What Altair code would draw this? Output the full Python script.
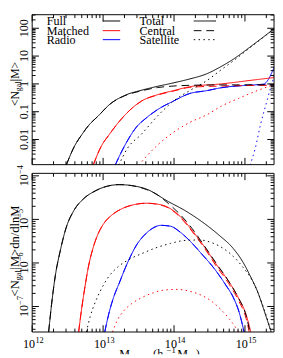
import altair as alt
import pandas as pd

FONT = "Liberation Serif"

# ---------------- data: log10(M / h^-1 Msun) and values ----------------
# Top panel: <N_gal|M>
top_full_total_logM = [12.48, 12.6, 12.7, 12.8, 12.93, 13.1, 13.3, 13.55, 13.77, 14.0, 14.22, 14.46, 14.67, 14.81, 15.11, 15.42]
top_full_total_N = [1.2e-3, 0.006, 0.015, 0.033, 0.07, 0.19, 0.38, 0.6, 0.82, 1.1, 1.5, 2.3, 4.3, 7.0, 25, 100]
top_full_cen_logM = [12.48, 12.6, 12.7, 12.8, 12.93, 13.1, 13.3, 13.55, 13.77, 14.0, 14.22, 14.46, 14.8, 15.1, 15.42]
top_full_cen_N = [1.2e-3, 0.006, 0.015, 0.033, 0.07, 0.19, 0.37, 0.57, 0.74, 0.84, 0.89, 0.91, 0.92, 0.93, 0.93]
top_full_sat_logM = [13.22, 13.34, 13.54, 13.77, 13.99, 14.22, 14.46, 14.67, 14.81, 15.11, 15.42]
top_full_sat_N = [1.2e-3, 4.7e-3, 0.0155, 0.071, 0.24, 0.57, 1.3, 3.3, 6.0, 24, 99]

top_match_total_logM = [12.86, 12.97, 13.09, 13.31, 13.54, 13.77, 13.99, 14.22, 14.67, 15.14, 15.42]
top_match_total_N = [1.2e-3, 5.5e-3, 0.0155, 0.077, 0.24, 0.41, 0.57, 0.79, 1.0, 1.4, 1.7]
top_match_cen_logM = [12.86, 12.97, 13.09, 13.31, 13.54, 13.77, 13.99, 14.22, 14.67, 15.14, 15.42]
top_match_cen_N = [1.2e-3, 5.5e-3, 0.0155, 0.077, 0.24, 0.40, 0.55, 0.75, 0.84, 0.88, 0.90]
top_match_sat_logM = [13.50, 13.77, 13.99, 14.22, 14.46, 14.67, 14.91, 15.14, 15.36, 15.42]
top_match_sat_N = [1.2e-3, 6.4e-3, 0.018, 0.041, 0.077, 0.16, 0.30, 0.53, 0.85, 0.95]

top_radio_total_logM = [13.17, 13.31, 13.47, 13.61, 13.77, 13.99, 14.22, 14.46, 14.67, 14.91, 15.14, 15.27, 15.34, 15.38, 15.42]
top_radio_total_N = [1.2e-3, 6.4e-3, 0.028, 0.06, 0.12, 0.24, 0.45, 0.57, 0.73, 0.85, 0.92, 1.0, 1.6, 2.6, 4.3]
top_radio_cen_logM = [13.17, 13.31, 13.47, 13.61, 13.77, 13.99, 14.22, 14.46, 14.67, 14.91, 15.14, 15.27, 15.42]
top_radio_cen_N = [1.2e-3, 6.4e-3, 0.028, 0.06, 0.12, 0.24, 0.45, 0.57, 0.73, 0.85, 0.91, 0.93, 0.95]
top_radio_sat_logM = [15.07, 15.14, 15.22, 15.32, 15.36, 15.38, 15.42]
top_radio_sat_N = [1.2e-3, 4.3e-3, 0.035, 0.3, 0.7, 1.0, 2.6]

# Bottom panel: <N_gal|M> dn/dlnM
bot_full_total_logM = [12.232, 12.273, 12.327, 12.396, 12.477, 12.587, 12.723, 12.887, 13.064, 13.228, 13.405, 13.61, 13.924, 14.156, 14.387, 14.633, 14.838, 14.974, 15.07, 15.179, 15.288, 15.37]
bot_full_total_v = [2.6e-8, 1.11e-7, 5.2e-7, 1.91e-6, 6.3e-6, 1.59e-5, 2.96e-5, 4.49e-5, 5.81e-5, 6.28e-5, 5.96e-5, 4.97e-5, 2.54e-5, 1.59e-5, 9.0e-6, 4.37e-6, 2.12e-6, 1.03e-6, 5.2e-7, 2.17e-7, 6.6e-8, 2.6e-8]
bot_full_cen_logM = [12.232, 12.273, 12.327, 12.396, 12.477, 12.587, 12.723, 12.887, 13.064, 13.228, 13.405, 13.61, 13.746, 13.924, 14.087, 14.251, 14.428, 14.606, 14.769, 14.906, 15.015, 15.07]
bot_full_cen_v = [2.6e-8, 1.11e-7, 5.2e-7, 1.91e-6, 6.3e-6, 1.59e-5, 2.96e-5, 4.49e-5, 5.81e-5, 6.28e-5, 5.96e-5, 4.85e-5, 3.84e-5, 2.29e-5, 1.29e-5, 6.3e-6, 2.47e-6, 9.25e-7, 3.84e-7, 1.59e-7, 6.3e-8, 2.6e-8]
bot_full_sat_logM = [12.764, 12.819, 12.887, 12.969, 13.064, 13.201, 13.364, 13.542, 13.746, 13.951, 14.156, 14.36, 14.538, 14.701, 14.838, 14.974, 15.083, 15.179, 15.261, 15.329, 15.37]
bot_full_sat_v = [2.6e-8, 5.96e-8, 1.23e-7, 2.41e-7, 4.49e-7, 7.9e-7, 1.2e-6, 1.63e-6, 2.23e-6, 2.81e-6, 3.29e-6, 3.37e-6, 2.89e-6, 2.12e-6, 1.4e-6, 7.9e-7, 4.49e-7, 2.17e-7, 9.5e-8, 4.37e-8, 2.6e-8]

bot_match_total_logM = [12.655, 12.696, 12.737, 12.791, 12.859, 12.928, 13.023, 13.132, 13.269, 13.432, 13.61, 13.774, 13.924, 14.087, 14.251, 14.428, 14.606, 14.769, 14.906, 15.015, 15.083]
bot_match_total_v = [2.6e-8, 8.6e-8, 2.4e-7, 7.9e-7, 2.23e-6, 4.6e-6, 8.6e-6, 1.29e-5, 1.77e-5, 2.17e-5, 2.35e-5, 2.23e-5, 1.86e-5, 1.17e-5, 5.7e-6, 2.35e-6, 8.8e-7, 3.8e-7, 1.6e-7, 6.6e-8, 2.6e-8]
bot_match_cen_logM = [12.655, 12.696, 12.737, 12.791, 12.859, 12.928, 13.023, 13.132, 13.269, 13.432, 13.61, 13.774, 13.924, 14.087, 14.251, 14.428, 14.606, 14.769, 14.906, 15.015, 15.06]
bot_match_cen_v = [2.6e-8, 8.6e-8, 2.4e-7, 7.9e-7, 2.23e-6, 4.6e-6, 8.6e-6, 1.29e-5, 1.77e-5, 2.17e-5, 2.35e-5, 2.2e-5, 1.82e-5, 1.12e-5, 5.4e-6, 2.2e-6, 8.0e-7, 3.4e-7, 1.4e-7, 5.4e-8, 2.6e-8]
bot_match_sat_logM = [13.132, 13.201, 13.296, 13.405, 13.542, 13.705, 13.883, 14.046, 14.224, 14.387, 14.538, 14.674, 14.783, 14.865, 14.906]
bot_match_sat_v = [2.6e-8, 4.84e-8, 8.1e-8, 1.17e-7, 1.59e-7, 2.06e-7, 2.41e-7, 2.47e-7, 2.23e-7, 1.81e-7, 1.29e-7, 8.1e-8, 5.1e-8, 3.37e-8, 2.6e-8]

bot_radio_total_logM = [13.023, 13.078, 13.146, 13.228, 13.31, 13.392, 13.473, 13.569, 13.678, 13.815, 13.951, 14.087, 14.224, 14.387, 14.565, 14.729, 14.838, 14.919, 14.988]
bot_radio_total_v = [2.6e-8, 6.6e-8, 1.59e-7, 3.46e-7, 7.5e-7, 1.48e-6, 2.61e-6, 4.15e-6, 5.96e-6, 7.3e-6, 6.96e-6, 5.1e-6, 3.2e-6, 1.63e-6, 7.5e-7, 3.12e-7, 1.59e-7, 7.3e-8, 2.6e-8]
bot_radio_cen_logM = bot_radio_total_logM
bot_radio_cen_v = bot_radio_total_v

# legend and tick labels
samples = ["Full", "Matched", "Radio"]
sample_colors = ["#000000", "#ff0000", "#0000ff"]
components = ["Total", "Central", "Satellite"]
component_dashes = [[1, 0], [8, 5], [1.5, 3.5]]

X_DOMAIN = [1e12, 2.57e15]
TOP_DOMAIN = [1.25e-3, 307]
BOT_DOMAIN = [2.6e-8, 1.14e-4]

x_major = [1e12, 1e13, 1e14, 1e15]
x_major_exp = ["12", "13", "14", "15"]
x_minor = [m * 10.0 ** d for d in range(12, 16) for m in range(2, 10) if m * 10.0 ** d <= X_DOMAIN[1]]
top_major = [1e-2, 1e-1, 1, 10, 100]
top_major_labels = ["0.01", "0.1", "1", "10", "100"]
top_minor = [m * 10.0 ** d for d in range(-3, 3) for m in range(2, 10) if TOP_DOMAIN[0] <= m * 10.0 ** d <= TOP_DOMAIN[1]]
bot_major = [1e-7, 1e-6, 1e-5, 1e-4]
bot_major_exp = ["\u22127", "\u22126", "\u22125", "\u22124"]
bot_minor = [m * 10.0 ** d for d in range(-8, -4) for m in range(2, 10) if BOT_DOMAIN[0] <= m * 10.0 ** d <= BOT_DOMAIN[1]]

# ---------------- build tables ----------------
def rows(sample, comp, logm, vals):
    return [dict(sample=sample, comp=comp, M=10 ** lm, v=v, i=k) for k, (lm, v) in enumerate(zip(logm, vals))]

top_df = pd.DataFrame(
    rows("Radio", "Total", top_radio_total_logM, top_radio_total_N)
    + rows("Radio", "Central", top_radio_cen_logM, top_radio_cen_N)
    + rows("Radio", "Satellite", top_radio_sat_logM, top_radio_sat_N)
    + rows("Matched", "Total", top_match_total_logM, top_match_total_N)
    + rows("Matched", "Central", top_match_cen_logM, top_match_cen_N)
    + rows("Matched", "Satellite", top_match_sat_logM, top_match_sat_N)
    + rows("Full", "Total", top_full_total_logM, top_full_total_N)
    + rows("Full", "Central", top_full_cen_logM, top_full_cen_N)
    + rows("Full", "Satellite", top_full_sat_logM, top_full_sat_N)
)
bot_df = pd.DataFrame(
    rows("Radio", "Total", bot_radio_total_logM, bot_radio_total_v)
    + rows("Radio", "Central", bot_radio_cen_logM, bot_radio_cen_v)
    + rows("Matched", "Total", bot_match_total_logM, bot_match_total_v)
    + rows("Matched", "Central", bot_match_cen_logM, bot_match_cen_v)
    + rows("Matched", "Satellite", bot_match_sat_logM, bot_match_sat_v)
    + rows("Full", "Total", bot_full_total_logM, bot_full_total_v)
    + rows("Full", "Central", bot_full_cen_logM, bot_full_cen_v)
    + rows("Full", "Satellite", bot_full_sat_logM, bot_full_sat_v)
)

W = 250
H_TOP = 155
H_BOT = 164
H_STRIP = 22
MAJ, MIN = 7, 3.5

xs = alt.Scale(type="log", domain=X_DOMAIN)
ys_top = alt.Scale(type="log", domain=TOP_DOMAIN)
ys_bot = alt.Scale(type="log", domain=BOT_DOMAIN)
color_scale = alt.Scale(domain=samples, range=sample_colors)
dash_scale = alt.Scale(domain=components, range=component_dashes)


def curves(df, ys):
    return alt.Chart(df).mark_line(clip=True, strokeWidth=1, interpolate="monotone").encode(
        x=alt.X("M:Q", scale=xs, axis=None),
        y=alt.Y("v:Q", scale=ys, axis=None),
        color=alt.Color("sample:N", scale=color_scale, legend=None),
        strokeDash=alt.StrokeDash("comp:N", scale=dash_scale, legend=None),
        order="i:Q",
    )


def frame(H):
    return alt.Chart(pd.DataFrame({"z": [0]})).mark_rect(
        fill="transparent", stroke="black", strokeWidth=1
    ).encode(x=alt.value(0), x2=alt.value(W), y=alt.value(0), y2=alt.value(H))


def ticks(H, ys, ymaj, ymin):
    out = []
    for vals, L in [(x_major, MAJ), (x_minor, MIN)]:
        b = alt.Chart(pd.DataFrame({"M": vals})).mark_rule(color="black", strokeWidth=1)
        ex = alt.X("M:Q", scale=xs, axis=None)
        out.append(b.encode(x=ex, y=alt.value(H), y2=alt.value(H - L)))
        out.append(b.encode(x=ex, y=alt.value(0), y2=alt.value(L)))
    for vals, L in [(ymaj, MAJ), (ymin, MIN)]:
        b = alt.Chart(pd.DataFrame({"v": vals})).mark_rule(color="black", strokeWidth=1)
        ey = alt.Y("v:Q", scale=ys, axis=None)
        out.append(b.encode(y=ey, x=alt.value(0), x2=alt.value(L)))
        out.append(b.encode(y=ey, x=alt.value(W), x2=alt.value(W - L)))
    return out


def txt(s, x, y, size=12.5, angle=0, align="left", dx=0, dy=0, clip=False):
    return alt.Chart(pd.DataFrame({"t": [s]})).mark_text(
        font=FONT, fontSize=size, angle=angle, align=align, baseline="alphabetic",
        dx=dx, dy=dy, color="black", clip=clip
    ).encode(x=alt.value(x), y=alt.value(y), text="t:N")


TITLE_X = -14
LABEL_X = -4.5

# top panel y labels
top_labels = alt.Chart(pd.DataFrame({"v": top_major, "lab": top_major_labels})).mark_text(
    font=FONT, fontSize=12.5, angle=270, align="center", baseline="alphabetic", color="black"
).encode(y=alt.Y("v:Q", scale=ys_top, axis=None), x=alt.value(LABEL_X), text="lab:N")

# legend
ROW_BASE = [10.5, 20.5, 29.8]
ROW_LINE = [6.5, 16.5, 25.8]
legend = []
for k, (s, c) in enumerate(zip(samples, sample_colors)):
    legend.append(txt(s, 15, ROW_BASE[k]))
    legend.append(alt.Chart(pd.DataFrame({"z": [0]})).mark_rule(color=c, strokeWidth=1).encode(
        x=alt.value(73), x2=alt.value(91), y=alt.value(ROW_LINE[k])))
for k, (cmp, d) in enumerate(zip(components, component_dashes)):
    legend.append(txt(cmp, 111, ROW_BASE[k]))
    legend.append(alt.Chart(pd.DataFrame({"z": [0]})).mark_rule(color="black", strokeWidth=1, strokeDash=d).encode(
        x=alt.value(167), x2=alt.value(190), y=alt.value(ROW_LINE[k])))

A_TOP = 79
top_title = [
    txt("<N", TITLE_X, A_TOP, size=12, angle=270, align="right"),
    txt("gal", TITLE_X, A_TOP, size=8, angle=270, align="left", dy=2.5),
    txt("|M>", TITLE_X, A_TOP, size=12, angle=270, align="left", dx=10.3),
]

top = alt.layer(
    curves(top_df, ys_top), frame(H_TOP), *ticks(H_TOP, ys_top, top_major, top_minor),
    top_labels, *legend, *top_title
).properties(width=W, height=H_TOP)

# bottom panel y labels (10 with superscript exponent)
bl = pd.DataFrame({"v": bot_major, "e": bot_major_exp, "b": ["10"] * len(bot_major)})
bot_lab_base = alt.Chart(bl).mark_text(
    font=FONT, fontSize=12.5, angle=270, align="right", baseline="alphabetic", dx=1.7, color="black"
).encode(y=alt.Y("v:Q", scale=ys_bot, axis=None), x=alt.value(LABEL_X), text="b:N")
bot_lab_exp = alt.Chart(bl).mark_text(
    font=FONT, fontSize=8.5, angle=270, align="left", baseline="alphabetic", dx=1.9, dy=-4.5, color="black"
).encode(y=alt.Y("v:Q", scale=ys_bot, axis=None), x=alt.value(LABEL_X), text="e:N")

A_BOT = 110.5
bot_title = [
    txt("<N", TITLE_X, A_BOT, size=13, angle=270, align="right"),
    txt("gal", TITLE_X, A_BOT, size=8.5, angle=270, align="left", dy=2.5),
    txt("|M>dn/dlnM", TITLE_X, A_BOT, size=13, angle=270, align="left", dx=11),
]

bottom = alt.layer(
    curves(bot_df, ys_bot), frame(H_BOT), *ticks(H_BOT, ys_bot, bot_major, bot_minor),
    bot_lab_base, bot_lab_exp, *bot_title
).properties(width=W, height=H_BOT)

# strip under the plots: x tick labels and the (cut-off) x-axis title
xl = pd.DataFrame({"M": x_major, "e": x_major_exp, "b": ["10"] * len(x_major)})
X_LAB_Y = 15.5
x_lab_base = alt.Chart(xl).mark_text(
    font=FONT, fontSize=12.5, align="right", baseline="alphabetic", dx=3, color="black"
).encode(x=alt.X("M:Q", scale=xs, axis=None), y=alt.value(X_LAB_Y), text="b:N")
x_lab_exp = alt.Chart(xl).mark_text(
    font=FONT, fontSize=8.5, align="left", baseline="alphabetic", dx=3.3, dy=-5, color="black"
).encode(x=alt.X("M:Q", scale=xs, axis=None), y=alt.value(X_LAB_Y), text="e:N")

XT = 26
x_title = [
    txt("M", 90, XT, clip=True),
    txt("vir", 101.5, XT + 4, size=9, clip=True),
    txt("(h", 125, XT, clip=True),
    txt("\u22121", 139, XT - 5, size=9, clip=True),
    txt("M", 150, XT, clip=True),
    txt("\u2299", 161.5, XT + 4, size=9, clip=True),
    txt(")", 169, XT, clip=True),
]

strip = alt.layer(x_lab_base, x_lab_exp, *x_title).properties(width=W, height=H_STRIP)

chart = alt.vconcat(top, bottom, strip, spacing=-1).configure_view(strokeWidth=0).properties(
    padding={"left": 0, "top": 0, "right": 0, "bottom": 0}
)
chart.save("out.html", embed_options={"renderer": "svg", "actions": False})
